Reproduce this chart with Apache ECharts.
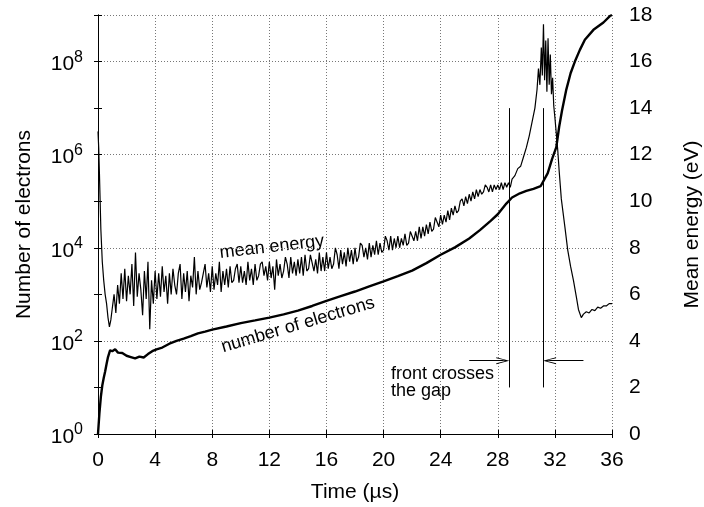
<!DOCTYPE html>
<html>
<head>
<meta charset="utf-8">
<script src="https://cdn.jsdelivr.net/npm/echarts@6/dist/echarts.min.js"></script>
<style>
  html, body { margin: 0; padding: 0; background: #fff; }
  #chart { width: 704px; height: 507px; }
</style>
</head>
<body>
<div id="chart"></div>
<script>
// mean energy (eV) vs time (us), right axis
var meanEnergy = [
  [0,13.0],[0.05,12.3],[0.1,11.2],[0.2,8.8],[0.3,7.4],[0.4,6.6],[0.5,6.0],[0.6,5.6],[0.7,5.0],[0.8,4.6],[0.9,4.9],
  [1.0,5.4],[1.125,6.0],[1.25,5.2],[1.375,6.4],[1.5,5.6],[1.625,6.9],[1.75,5.8],[1.875,7.1],
  [2.0,5.7],[2.125,6.8],[2.25,6.0],[2.375,7.3],[2.5,5.5],[2.625,7.8],[2.75,5.9],[2.875,6.9],
  [3.0,6.2],[3.125,5.1],[3.25,7.0],[3.375,5.8],[3.5,7.4],[3.625,4.5],[3.75,6.6],[3.875,5.6],
  [4.0,7.0],[4.125,5.8],[4.25,6.9],[4.375,5.9],[4.5,7.2],[4.625,6.1],[4.75,6.8],[4.875,5.6],
  [5.0,6.9],[5.125,6.0],[5.25,7.1],[5.375,6.4],[5.5,6.0],[5.625,6.9],[5.75,7.3],[5.875,5.8],
  [6.0,6.9],[6.125,6.1],[6.25,7.0],[6.375,5.7],[6.5,6.8],[6.625,6.3],[6.75,7.6],[6.875,6.0],
  [7.0,7.0],[7.125,6.2],[7.25,6.5],[7.375,6.9],[7.5,7.3],[7.625,6.3],[7.75,6.9],[7.875,6.1],
  [8.0,7.2],[8.125,6.2],[8.25,6.9],[8.375,6.4],[8.5,7.4],[8.625,6.1],[8.75,7.0],[8.875,6.4],
  [9.0,7.1],[9.125,6.3],[9.25,7.2],[9.375,6.5],[9.5,6.6],[9.625,7.1],[9.75,7.3],[9.875,6.5],
  [10.0,7.2],[10.125,6.5],[10.25,7.0],[10.375,6.4],[10.5,7.4],[10.625,6.6],[10.75,7.1],[10.875,6.4],
  [11.0,7.3],[11.125,6.6],[11.25,6.8],[11.375,7.3],[11.5,7.4],[11.625,6.8],[11.75,7.2],[11.875,6.6],
  [12.0,7.4],[12.125,6.7],[12.25,7.2],[12.375,6.2],[12.5,7.5],[12.625,6.8],[12.75,7.3],[12.875,6.7],
  [13.0,7.0],[13.125,7.6],[13.25,7.3],[13.375,6.7],[13.5,7.6],[13.625,6.9],[13.75,7.4],[13.875,6.8],
  [14.0,7.5],[14.125,6.9],[14.25,7.6],[14.375,6.8],[14.5,7.7],[14.625,7.0],[14.75,7.1],[14.875,7.7],
  [15.0,7.7],[15.125,7.0],[15.25,7.5],[15.375,6.9],[15.5,7.8],[15.625,7.0],[15.75,7.6],[15.875,7.0],
  [16.0,7.8],[16.125,7.1],[16.25,7.6],[16.375,7.1],[16.5,7.3],[16.625,8.0],[16.75,7.7],[16.875,7.1],
  [17.0,7.9],[17.125,7.3],[17.25,7.8],[17.375,7.2],[17.5,8.0],[17.625,7.4],[17.75,7.9],[17.875,7.3],
  [18.0,8.0],[18.125,7.4],[18.25,7.6],[18.375,8.2],[18.5,8.1],[18.625,7.6],[18.75,8.0],[18.875,7.5],
  [19.0,8.2],[19.125,7.6],[19.25,8.1],[19.375,7.7],[19.5,8.3],[19.625,7.7],[19.75,8.2],[19.875,7.8],
  [20.0,7.9],[20.125,8.5],[20.25,8.3],[20.375,7.9],[20.5,8.5],[20.625,7.9],[20.75,8.4],[20.875,8.0],
  [21.0,8.5],[21.125,8.0],[21.25,8.4],[21.375,8.1],[21.5,8.6],[21.625,8.1],[21.75,8.2],[21.875,8.7],
  [22.0,8.7],[22.125,8.3],[22.25,8.7],[22.375,8.3],[22.5,8.9],[22.625,8.4],[22.75,8.9],[22.875,8.5],
  [23.0,9.0],[23.125,8.6],[23.25,9.1],[23.375,8.7],[23.5,8.8],[23.625,9.3],[23.75,9.3],[23.875,8.9],
  [24.0,9.4],[24.125,9.0],[24.25,9.4],[24.375,9.1],[24.5,9.6],[24.625,9.2],[24.75,9.7],[24.875,9.4],
  [25.0,9.8],[25.125,9.5],[25.25,9.6],[25.375,10.0],[25.5,10.1],[25.625,9.8],[25.75,10.2],[25.875,9.9],
  [26.0,10.3],[26.125,10.0],[26.25,10.4],[26.375,10.1],[26.5,10.5],[26.625,10.2],[26.75,10.5],[26.875,10.3],
  [27.0,10.4],[27.125,10.7],[27.25,10.6],[27.375,10.4],[27.5,10.7],[27.625,10.4],[27.75,10.7],[27.875,10.5],
  [28.0,10.7],[28.125,10.5],[28.25,10.8],[28.375,10.5],[28.5,10.8],[28.625,10.6],[28.75,10.8],[28.875,10.6],
  [29.0,10.95],[29.2,11.1],[29.4,11.4],[29.6,11.5],[29.8,11.9],[30.0,12.3],[30.2,12.8],[30.4,13.4],
  [30.6,14.0],[30.75,14.8],[30.85,15.7],[30.95,15.0],[31.05,16.6],[31.12,15.4],[31.2,17.6],[31.28,15.2],[31.36,16.9],[31.44,14.7],[31.52,17.0],[31.6,15.0],
  [31.68,16.3],[31.76,14.6],[31.84,15.3],[31.92,14.1],[32.0,13.6],[32.1,12.9],[32.2,12.2],[32.3,11.3],[32.45,10.1],[32.7,8.9],[32.9,7.9],[33.1,7.2],
  [33.3,6.6],[33.5,5.9],[33.65,5.35],[33.85,5.0],[34.0,5.15],[34.2,5.25],[34.4,5.2],[34.6,5.35],[34.8,5.3],[35.0,5.45],[35.2,5.4],[35.4,5.5],
  [35.6,5.5],[35.8,5.6],[36.0,5.6]
];

// number of electrons vs time (us), left log axis
var electrons = [
  [0,1],[0.1,2.8],[0.2,6.3],[0.3,11],[0.4,16],[0.5,22],[0.6,32],[0.7,45],[0.85,63],[1.0,60],[1.2,66],[1.4,56],
  [1.7,55],[2.0,48],[2.3,45],[2.6,42],[2.9,46],[3.2,44],[3.5,52],[3.8,60],[4.1,66],[4.5,72],[5.0,87],[5.5,100],
  [6.0,112],[6.5,126],[7.0,145],[7.5,158],[8.0,174],[9.0,204],[10.0,240],[11.0,275],[12.0,316],[13.0,372],[14.0,447],
  [15.0,562],[16.0,724],[17.0,912],[18.0,1150],[19.0,1480],[20.0,1900],[21.0,2450],[22.0,3240],[23.0,4680],[24.0,7080],
  [25.0,1.02e4],[26.0,1.58e4],[26.75,2.4e4],[27.5,3.8e4],[28.0,5.25e4],[28.6,8.9e4],[29.0,1.2e5],[29.55,1.48e5],[30.0,1.66e5],
  [30.5,1.85e5],[31.0,2.1e5],[31.5,4.0e5],[31.8,8.0e5],[32.1,1.45e6],[32.3,3.98e6],[32.5,8.9e6],[32.8,2.5e7],[33.1,5.6e7],
  [33.4,1.0e8],[33.75,1.78e8],[34.1,2.95e8],[34.7,4.8e8],[35.4,6.9e8],[35.85,9.5e8],[36.0,1.0e9]
];

// "front crosses the gap" marks (time in us, energy units)
var frontTimes = [28.8, 31.18];
var frontSpan = [2, 14];
var arrowLevel = 3.15;
var arrowLeft = [26.0, 28.35];
var arrowRight = [34.0, 31.63];

var font = 'Liberation Sans, Arial, sans-serif';
var gridStyle = { color: '#777', width: 1, type: [1, 2] };
var arrowHead = 'path://M5,0 L10,13 L8.6,13 L5.6,4 L5.6,13 L4.4,13 L4.4,4 L1.4,13 L0,13 Z';

var myChart = echarts.init(document.getElementById('chart'));

var option = {
  animation: false,
  backgroundColor: '#fff',
  grid: { left: 98, right: 92, top: 15, bottom: 73, containLabel: false, outerBoundsMode: 'none' },
  xAxis: [
    {
      type: 'value', min: 0, max: 36, interval: 4, position: 'bottom',
      name: 'Time (\u00b5s)', nameLocation: 'middle', nameGap: 48,
      nameTextStyle: { fontFamily: font, fontSize: 21, color: '#000' },
      axisLine: { lineStyle: { color: '#000', width: 1 } },
      axisTick: { inside: true, length: 4, lineStyle: { color: '#000' } },
      axisLabel: { margin: 16, fontFamily: font, fontSize: 21, color: '#000' },
      splitLine: { show: true, lineStyle: gridStyle }
    },
    {
      type: 'value', min: 0, max: 36, interval: 4, position: 'top',
      axisLine: { lineStyle: { color: '#000', width: 1 } },
      axisTick: { inside: true, length: 4, lineStyle: { color: '#000' } },
      axisLabel: { show: false },
      splitLine: { show: false }
    }
  ],
  yAxis: [
    {
      type: 'log', logBase: 100, min: 1, max: 1e9, position: 'left',
      name: 'Number of electrons', nameLocation: 'middle', nameGap: 63,
      nameTextStyle: { fontFamily: font, fontSize: 21, color: '#000' },
      axisLine: { lineStyle: { color: '#000', width: 1 } },
      axisTick: { inside: true, length: 4, lineStyle: { color: '#000' } },
      axisLabel: {
        margin: 15, fontFamily: font, color: '#000',
        formatter: function (v) {
          var e = Math.round(Math.log(v) / Math.LN10);
          if (e % 2 !== 0) return '';
          return '{b|10}{e|' + e + '}';
        },
        rich: {
          b: { fontFamily: font, fontSize: 21, lineHeight: 24, padding: [6, 0, 0, 0], color: '#000' },
          e: { fontFamily: font, fontSize: 16, lineHeight: 23, verticalAlign: 'top', color: '#000' }
        }
      },
      splitLine: { show: true, lineStyle: gridStyle }
    },
    {
      type: 'value', min: 0, max: 18, interval: 2, position: 'right',
      name: 'Mean energy (eV)', nameLocation: 'middle', nameGap: 70,
      nameTextStyle: { fontFamily: font, fontSize: 21, color: '#000' },
      axisLine: { lineStyle: { color: '#000', width: 1 } },
      axisTick: { inside: true, length: 4, lineStyle: { color: '#000' } },
      axisLabel: { margin: 17, fontFamily: font, fontSize: 21, color: '#000' },
      splitLine: { show: false }
    },
    {
      // decade ticks on the left border
      type: 'value', min: 0, max: 18, interval: 2, position: 'left',
      axisLine: { show: false },
      axisTick: { inside: true, length: 4, lineStyle: { color: '#000' } },
      axisLabel: { show: false },
      splitLine: { show: false }
    }
  ],
  graphic: [
    {
      type: 'text', x: 272, y: 247, rotation: 6.5 * Math.PI / 180,
      style: { text: 'mean energy', fontFamily: font, fontSize: 18, fill: '#000', align: 'center', verticalAlign: 'middle' }
    },
    {
      type: 'text', x: 298, y: 325, rotation: 16.5 * Math.PI / 180,
      style: { text: 'number of electrons', fontFamily: font, fontSize: 18, fill: '#000', align: 'center', verticalAlign: 'middle' }
    },
    {
      type: 'text', x: 391, y: 383,
      style: { text: 'front crosses\nthe gap', fontFamily: font, fontSize: 18, lineHeight: 17, fill: '#000', align: 'left', verticalAlign: 'middle' }
    }
  ],
  series: [
    {
      name: 'number of electrons',
      type: 'line',
      xAxisIndex: 0, yAxisIndex: 0,
      showSymbol: false,
      lineStyle: { color: '#000', width: 2.4 },
      data: electrons
    },
    {
      name: 'mean energy',
      type: 'line',
      xAxisIndex: 0, yAxisIndex: 1,
      showSymbol: false,
      lineStyle: { color: '#000', width: 1.2 },
      data: meanEnergy,
      markLine: {
        silent: true,
        symbol: ['none', 'none'],
        label: { show: false },
        lineStyle: { color: '#000', width: 1, type: 'solid' },
        data: [
          [{ coord: [frontTimes[0], frontSpan[0]] }, { coord: [frontTimes[0], frontSpan[1]] }],
          [{ coord: [frontTimes[1], frontSpan[0]] }, { coord: [frontTimes[1], frontSpan[1]] }],
          [{ coord: [arrowLeft[0], arrowLevel] }, { coord: [arrowLeft[1], arrowLevel], symbol: arrowHead, symbolSize: [7, 13] }],
          [{ coord: [arrowRight[0], arrowLevel] }, { coord: [arrowRight[1], arrowLevel], symbol: arrowHead, symbolSize: [7, 13] }]
        ]
      }
    }
  ]
};

myChart.setOption(option);
</script>
</body>
</html>
